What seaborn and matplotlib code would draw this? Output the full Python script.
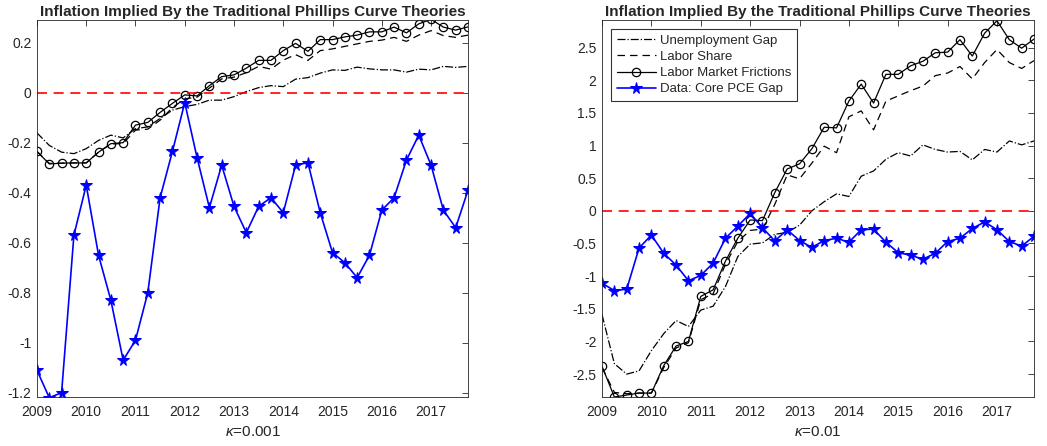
import numpy as np
import pandas as pd
import seaborn as sns
from matplotlib import pyplot as plt

# quarterly dates 2009Q1 .. 2017Q4
quarters = [2009 + q / 4 for q in range(36)]
years = list(range(2009, 2018))

core_pce_gap = [-1.11, -1.22, -1.20, -0.57, -0.37, -0.65, -0.83, -1.07, -0.99, -0.80,
                -0.42, -0.235, -0.04, -0.26, -0.46, -0.29, -0.455, -0.56, -0.455, -0.42,
                -0.48, -0.29, -0.28, -0.48, -0.64, -0.68, -0.74, -0.65, -0.47, -0.42,
                -0.27, -0.17, -0.29, -0.47, -0.54, -0.39]

# kappa = 0.001
unemp_gap_1 = [-0.161, -0.211, -0.238, -0.244, -0.224, -0.191, -0.170, -0.181, -0.144, -0.137,
               -0.103, -0.070, -0.056, -0.047, -0.030, -0.030, -0.016, 0.004, 0.020, 0.028,
               0.024, 0.054, 0.060, 0.078, 0.091, 0.089, 0.102, 0.095, 0.091, 0.091,
               0.082, 0.094, 0.091, 0.105, 0.101, 0.105]
labor_share_1 = [-0.235, -0.283, -0.282, -0.281, -0.281, -0.238, -0.206, -0.203, -0.150, -0.146,
                 -0.110, -0.060, -0.025, -0.018, 0.018, 0.055, 0.062, 0.080, 0.105, 0.094,
                 0.130, 0.152, 0.129, 0.168, 0.175, 0.185, 0.195, 0.205, 0.210, 0.221,
                 0.205, 0.230, 0.248, 0.228, 0.221, 0.230]
frictions_1 = [-0.235, -0.285, -0.282, -0.281, -0.281, -0.238, -0.204, -0.200, -0.130, -0.119,
               -0.079, -0.043, -0.009, -0.013, 0.028, 0.064, 0.071, 0.098, 0.129, 0.129,
               0.168, 0.197, 0.165, 0.212, 0.212, 0.223, 0.230, 0.243, 0.243, 0.262,
               0.239, 0.275, 0.293, 0.262, 0.250, 0.263]

# kappa = 0.01
unemp_gap_2 = [-1.59, -2.34, -2.50, -2.45, -2.14, -1.88, -1.68, -1.77, -1.52, -1.46,
               -1.16, -0.70, -0.51, -0.49, -0.36, -0.33, -0.22, 0.00, 0.14, 0.26,
               0.22, 0.53, 0.61, 0.79, 0.89, 0.84, 1.01, 0.94, 0.90, 0.91,
               0.78, 0.94, 0.90, 1.07, 1.01, 1.07]
labor_share_2 = [-2.40, -2.78, -2.80, -2.79, -2.79, -2.40, -2.10, -2.02, -1.36, -1.27,
                 -0.82, -0.47, -0.30, -0.28, 0.10, 0.55, 0.49, 0.73, 0.99, 0.89,
                 1.44, 1.53, 1.24, 1.68, 1.76, 1.84, 1.91, 2.07, 2.11, 2.21,
                 2.02, 2.27, 2.47, 2.27, 2.18, 2.30]
frictions_2 = [-2.38, -2.85, -2.82, -2.79, -2.79, -2.37, -2.07, -2.00, -1.31, -1.21,
               -0.77, -0.42, -0.14, -0.15, 0.28, 0.64, 0.72, 0.95, 1.28, 1.27,
               1.68, 1.94, 1.65, 2.09, 2.09, 2.22, 2.29, 2.42, 2.43, 2.62,
               2.37, 2.72, 2.91, 2.62, 2.49, 2.63]

panels = [
    dict(unemp=unemp_gap_1, share=labor_share_1, fric=frictions_1, ylim=(-1.217, 0.29),
         yticks=[-1.2, -1, -0.8, -0.6, -0.4, -0.2, 0, 0.2], xlabel=r"$\kappa$=0.001"),
    dict(unemp=unemp_gap_2, share=labor_share_2, fric=frictions_2, ylim=(-2.85, 2.92),
         yticks=[-2.5, -2, -1.5, -1, -0.5, 0, 0.5, 1, 1.5, 2, 2.5], xlabel=r"$\kappa$=0.01"),
]

sns.set_style("white")
plt.rcParams['font.family'] = ['Liberation Sans', 'DejaVu Sans']
plt.rcParams['mathtext.fontset'] = 'custom'
plt.rcParams['mathtext.it'] = 'Liberation Sans:italic'

fig = plt.figure(figsize=(10.47, 4.46), dpi=100)
ax1 = fig.add_axes([0.0353, 0.1099, 0.4117, 0.845])
ax2 = fig.add_axes([0.575, 0.1099, 0.4126, 0.845])

for ax, p in zip([ax1, ax2], panels):
    df = pd.DataFrame({"t": quarters, "unemp": p["unemp"], "share": p["share"],
                       "fric": p["fric"], "data": core_pce_gap})
    sns.lineplot(data=df, x="t", y="unemp", ax=ax, color="black", linestyle="-.",
                 linewidth=0.9, label="Unemployment Gap")
    sns.lineplot(data=df, x="t", y="share", ax=ax, color="black", linestyle=(0, (6, 4)),
                 linewidth=0.9, label="Labor Share")
    sns.lineplot(data=df, x="t", y="fric", ax=ax, color="black", linewidth=0.9,
                 marker="o", markersize=6, markerfacecolor="none", markeredgecolor="black",
                 markeredgewidth=0.9, label="Labor Market Frictions")
    sns.lineplot(data=df, x="t", y="data", ax=ax, color="blue", linewidth=1.2,
                 marker="*", markersize=8.5, markeredgecolor="blue",
                 label="Data: Core PCE Gap")
    ax.axhline(0, color="red", linestyle=(0, (6, 4)), linewidth=1.2)

    ax.set_xlim(2009, 2017.75)
    ax.set_ylim(*p["ylim"])
    ax.set_xticks(years)
    ax.set_xticklabels([str(y) for y in years])
    ax.set_yticks(p["yticks"])
    ax.set_yticklabels([f"{v:g}" for v in p["yticks"]])
    ax.tick_params(direction="in", top=True, right=True, length=4, width=0.6,
                   labelsize=10, colors="#262626", pad=4)
    ax.tick_params(axis="x", pad=6)
    for s in ax.spines.values():
        s.set_color("#262626")
        s.set_linewidth(0.6)
    ax.set_xlabel(p["xlabel"], fontsize=11, color="#262626", labelpad=4)
    ax.set_ylabel("")
    ax.set_title("Inflation Implied By the Traditional Phillips Curve Theories",
                 fontsize=11, fontweight="bold", pad=3)

ax1.get_legend().remove()
leg = ax2.legend(loc="upper left", fontsize=9.5, frameon=True, fancybox=False,
                 edgecolor="black", handlelength=3, handletextpad=0.3,
                 borderpad=0.4, labelspacing=0.3, borderaxespad=0.7)
leg.get_frame().set_linewidth(0.8)

fig.savefig("out.png", dpi=100)
